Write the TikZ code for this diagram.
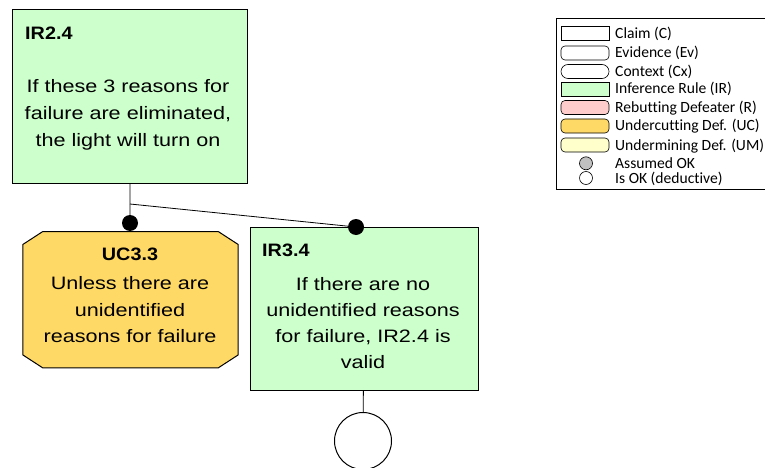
\documentclass[tikz,border=0pt]{standalone}
\usepackage{fontspec}
\setmainfont{Liberation Sans}[FakeStretch=1.2]
\newfontfamily\titlefont{Liberation Sans}[FakeStretch=1.1]
\newfontfamily\legendfont{Carlito}[Ligatures=NoCommon]
\usetikzlibrary{shapes,arrows,positioning}

\definecolor{irgreen}{HTML}{CCFFCC}
\definecolor{ucorange}{HTML}{FFD966}
\definecolor{rpink}{HTML}{FFCCCC}
\definecolor{umyellow}{HTML}{FFFFCC}
\definecolor{okgray}{HTML}{C0C0C0}

\begin{document}
\begin{tikzpicture}[x=1pt, y=-1pt,
    rule/.style={rectangle, draw, line width=1pt, fill=irgreen},
    undercut/.style={rectangle, inner sep=0pt},
    ucedge/.style={draw, line width=1pt, fill=ucorange},
    nodetitle/.style={inner sep=0pt, font=\titlefont\fontsize{18}{22}\selectfont\bfseries},
    body/.style={inner sep=0pt, align=center},
    dot/.style={circle, fill=black, inner sep=0pt, minimum size=16pt},
    okmark/.style={circle, draw, line width=1pt, fill=white, minimum size=57pt, inner sep=0pt},
    link/.style={line width=0.8pt},
    swatch/.style={rectangle, draw, line width=0.6pt, minimum width=48pt, minimum height=14pt, inner sep=0pt},
    legendtext/.style={anchor=base west, inner sep=0pt, font=\legendfont\fontsize{15.6}{18}\selectfont},
    okdot/.style={circle, draw, line width=0.6pt, minimum size=13pt, inner sep=0pt}
]
\useasboundingbox (0,0) rectangle (765,468);

% Argument nodes
\node[rule, minimum width=235pt, minimum height=173pt] (ir24) at (129.5,96.5) {};
\node[nodetitle, anchor=base west] (ir24id) at (25,40) {IR2.4};
\node[body, anchor=base, font=\fontsize{18}{27}\selectfont] (ir24txt) at (128,146.7) {If these 3 reasons for\\failure are eliminated,\\the light will turn on};

\node[undercut, minimum width=215pt, minimum height=136pt] (uc33) at (130.5,299.7) {};
\draw[ucedge] ([xshift=20pt]uc33.north west) -- ([xshift=-20pt]uc33.north east)
    -- ([yshift=-13pt]uc33.north east) -- ([yshift=13pt]uc33.south east)
    -- ([xshift=-20pt]uc33.south east) -- ([xshift=20pt]uc33.south west)
    -- ([yshift=13pt]uc33.south west) -- ([yshift=-13pt]uc33.north west) -- cycle;
\node[nodetitle, anchor=base] (uc33id) at (130,260) {UC3.3};
\node[body, anchor=base, font=\fontsize{18}{26.5}\selectfont] (uc33txt) at (130,342.7) {Unless there are\\unidentified\\reasons for failure};

\node[rule, minimum width=228pt, minimum height=163pt] (ir34) at (364,309.2) {};
\node[nodetitle, anchor=base west] (ir34id) at (262,256.7) {IR3.4};
\node[body, anchor=base, font=\fontsize{18}{25.8}\selectfont] (ir34txt) at (363,368.3) {If there are no\\unidentified reasons\\for failure, IR2.4 is\\valid};

\node[okmark] (okc) at (363,441) {};

% Connectors
\coordinate (split) at (130,204);
\node[dot] (ucdot) at (130,223) {};
\node[dot] (irdot) at (356,227) {};
\draw[link] (ir24) -- (split) -- (ucdot);
\draw[link] (split) -- (irdot);
\draw[link] (ir34) -- (okc);

% Legend
\node[draw, line width=0.6pt, minimum width=210pt, minimum height=171pt, inner sep=0pt] (legend) at (661,103.5) {};
\node[swatch] (claimkey) at (585,33.5) {};
\node[swatch, rounded corners=4pt] (evkey) at (585,53) {};
\node[swatch, rounded corners=7pt] (cxkey) at (585,71.5) {};
\node[swatch, fill=irgreen] (irkey) at (585,89) {};
\node[swatch, rounded corners=4pt, fill=rpink] (rkey) at (585,107.5) {};
\node[swatch, rounded corners=4pt, fill=ucorange] (uckey) at (585,126) {};
\node[swatch, rounded corners=4pt, fill=umyellow] (umkey) at (585,145) {};
\node[okdot, fill=okgray] (assumedkey) at (586,163.3) {};
\node[okdot, fill=white] (okkey) at (586,178) {};

\node[legendtext] (claimtxt) at (615,38.5) {Claim (C)};
\node[legendtext] (evtxt) at (615,58) {Evidence (Ev)};
\node[legendtext] (cxtxt) at (615,76.5) {Context (Cx)};
\node[legendtext] (irtxt) at (615,94) {Inference Rule (IR)};
\node[legendtext] (rtxt) at (615,112.5) {Rebutting Defeater (R)};
\node[legendtext] (uctxt) at (615,131) {Undercutting Def. (UC)};
\node[legendtext] (umtxt) at (615,150) {Undermining Def. (UM)};
\node[legendtext] (assumedtxt) at (615,168) {Assumed OK};
\node[legendtext] (oktxt) at (615,183) {Is OK (deductive)};

\end{tikzpicture}
\end{document}
